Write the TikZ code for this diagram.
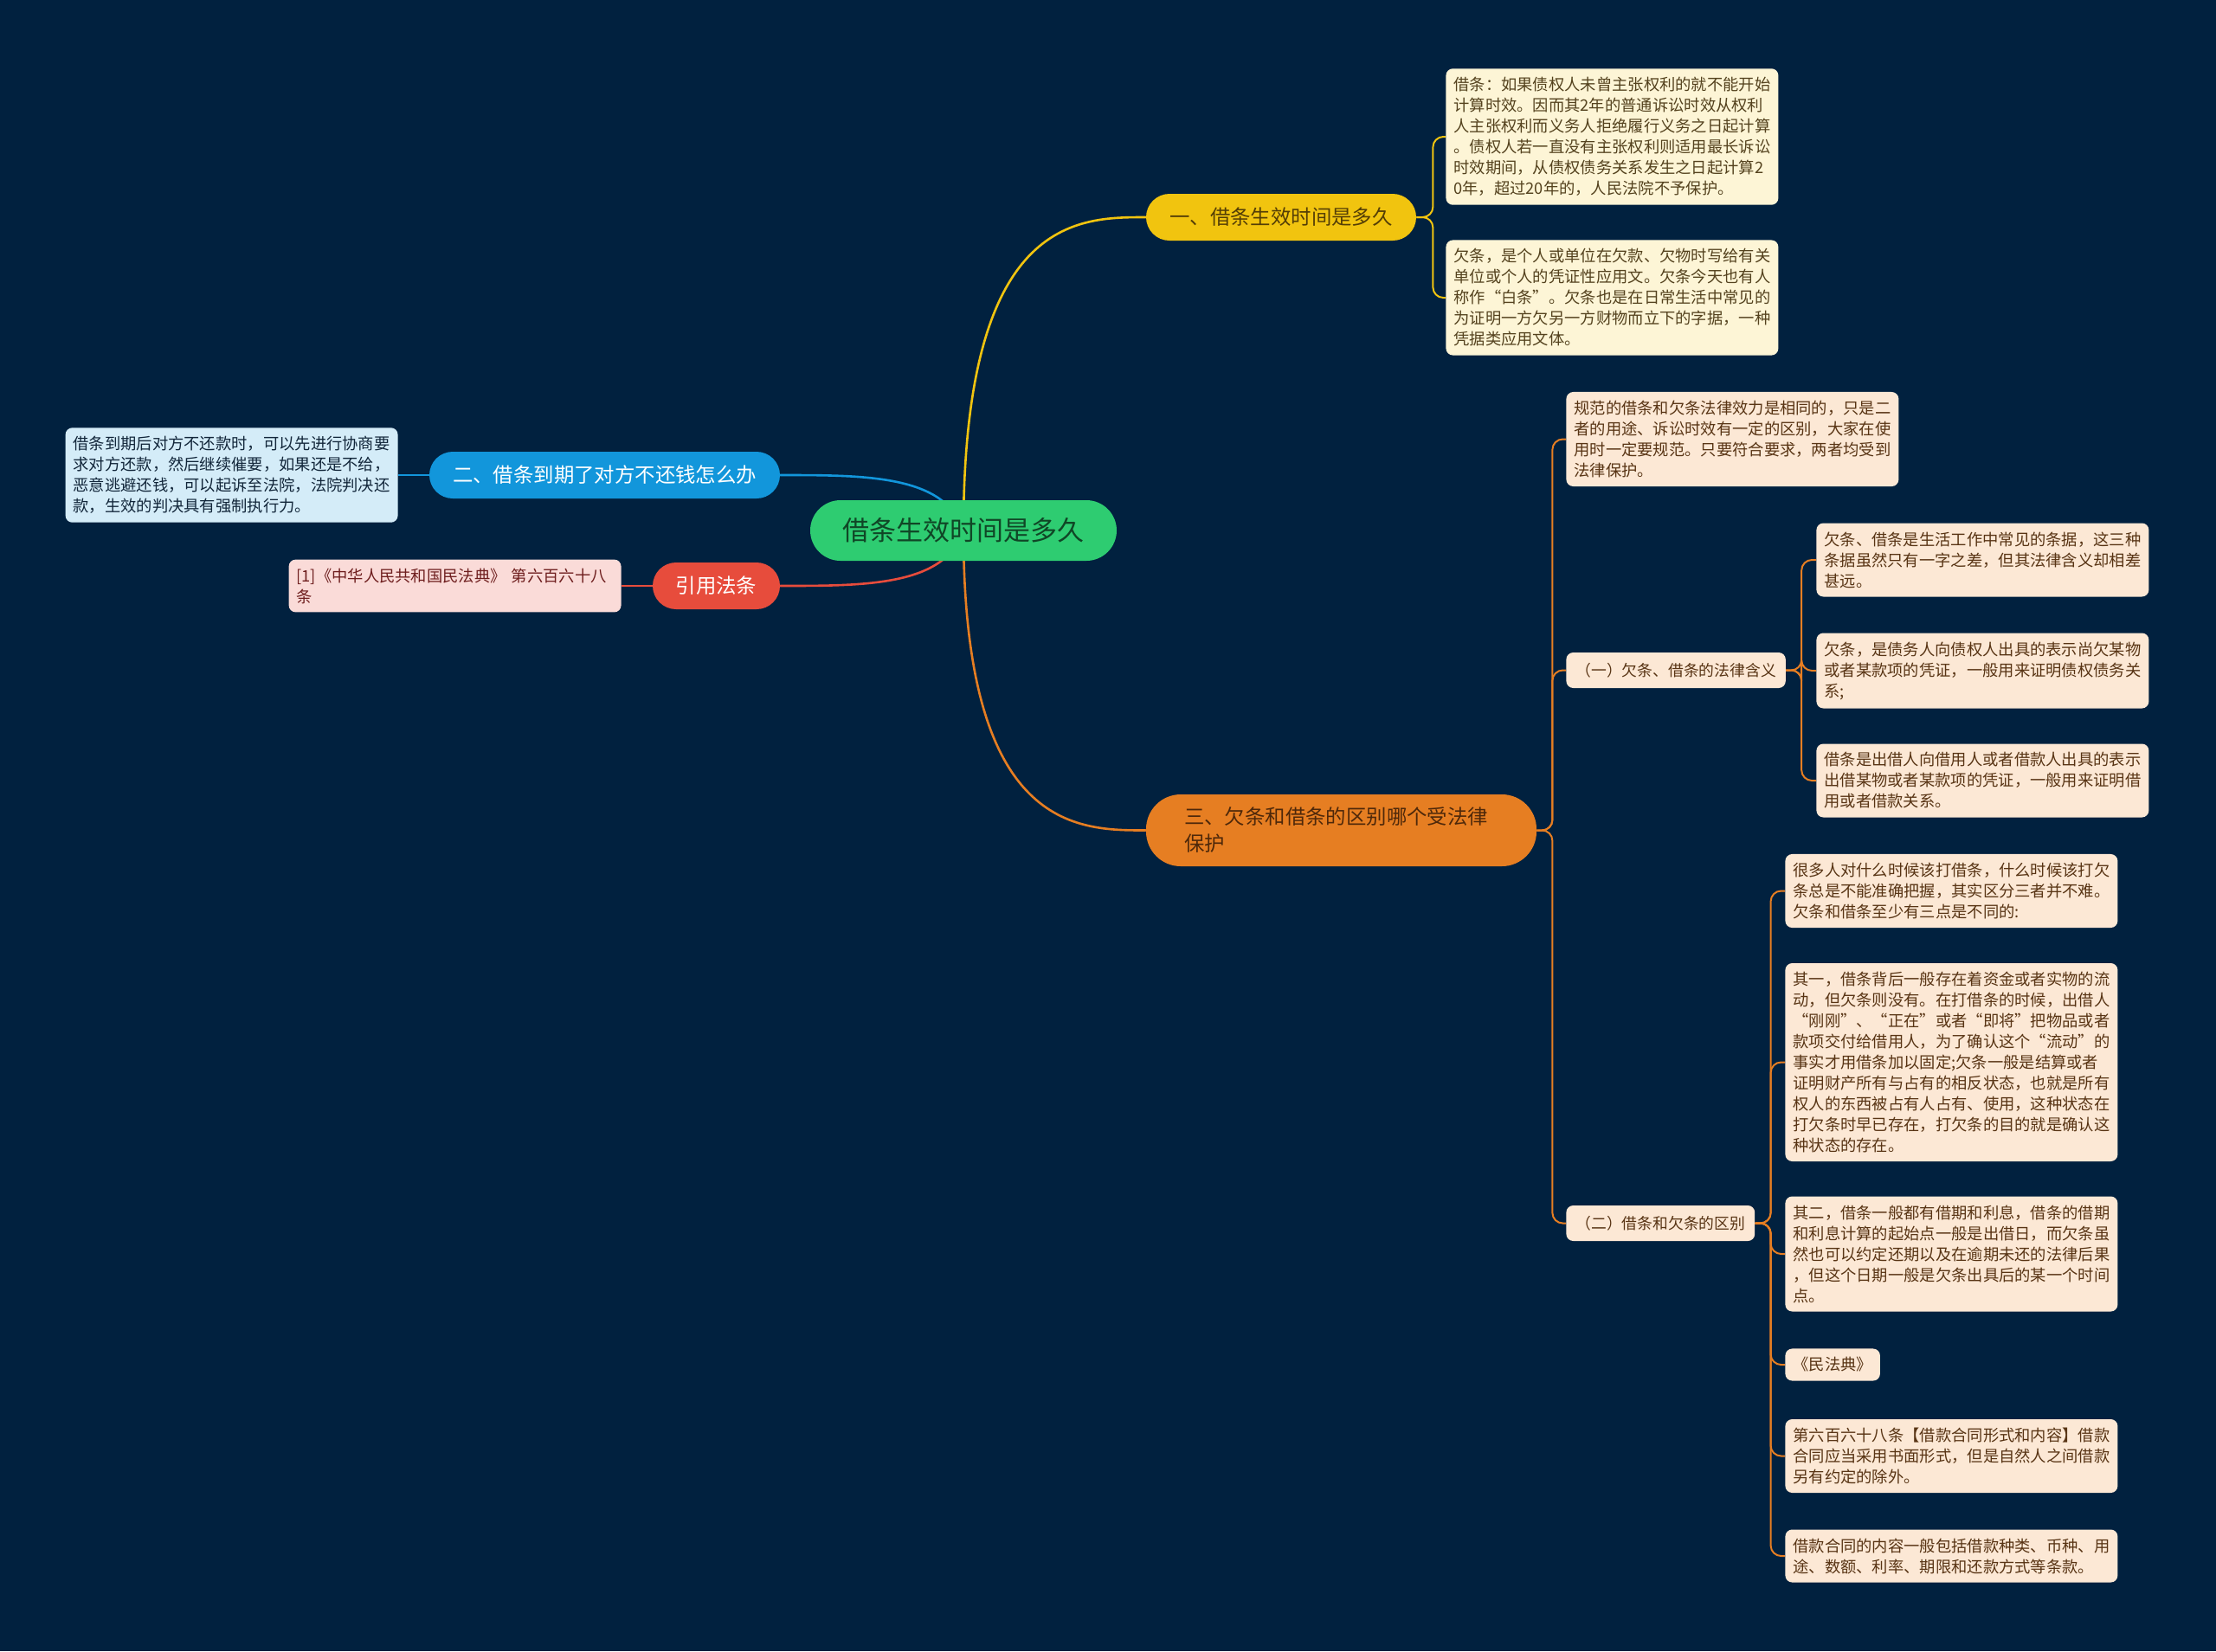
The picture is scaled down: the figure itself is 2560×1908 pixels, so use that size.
\documentclass[tikz,border=0pt]{standalone}
\usepackage{fontspec}
\setmainfont{Noto Sans CJK SC}
\usetikzlibrary{calc,backgrounds}

\definecolor{navybg}{RGB}{1,33,63}
\definecolor{rootgreen}{RGB}{46,204,113}
\definecolor{roottext}{RGB}{16,70,38}
\definecolor{ylw}{RGB}{241,196,15}
\definecolor{ylwtext}{RGB}{84,62,6}
\definecolor{ylwleaf}{RGB}{253,245,214}
\definecolor{ylwleaftext}{RGB}{84,66,30}
\definecolor{blu}{RGB}{18,150,219}
\definecolor{bluleaf}{RGB}{212,236,248}
\definecolor{bluleaftext}{RGB}{18,38,58}
\definecolor{rd}{RGB}{231,76,60}
\definecolor{rdleaf}{RGB}{250,219,216}
\definecolor{rdleaftext}{RGB}{110,30,30}
\definecolor{orng}{RGB}{230,126,34}
\definecolor{orngtext}{RGB}{78,40,10}
\definecolor{orngleaf}{RGB}{252,232,213}
\definecolor{orngleaftext}{RGB}{88,52,20}

\tikzset{
    leaf/.style    = {rectangle, rounded corners=4pt, inner xsep=4.5pt, inner ysep=5pt, align=left,
                      font=\fontsize{9.15}{12}\selectfont},
    note/.style    = {leaf, text width=183pt},
    ylwnote/.style = {note, fill=ylwleaf, text=ylwleaftext},
    bluenote/.style= {note, fill=bluleaf, text=bluleaftext},
    rednote/.style = {note, fill=rdleaf, text=rdleaftext},
    orgnote/.style = {note, fill=orngleaf, text=orngleaftext},
    limb/.style    = {line width=1.3pt, line cap=round},
    twig/.style    = {line width=1pt, rounded corners=6pt}
}

\begin{document}
\begin{tikzpicture}[
        x=0.5pt, y=-0.5pt,
        rootbox/.style={rectangle, rounded corners=17.5pt, fill=rootgreen, text=roottext,
                        minimum width=177pt, minimum height=35pt, font=\fontsize{15.5}{18}\selectfont},
        branch/.style={rectangle, rounded corners=13.5pt, minimum height=27pt, inner xsep=0pt,
                       font=\fontsize{11.7}{14}\selectfont},
        subhead/.style={rectangle, rounded corners=4pt, minimum height=20.5pt, inner xsep=5.5pt,
                        fill=orngleaf, text=orngleaftext, font=\fontsize{8.9}{11}\selectfont}
    ]

    % --- Canvas ---
    \begin{scope}[on background layer]
        \fill[navybg] (0,0) rectangle (2560,1908);
    \end{scope}
    \useasboundingbox (0,0) rectangle (2560,1908);

    % --- Root and main branches ---
    \node[rootbox] (root) at (1113,613) {借条生效时间是多久};
    \node[branch, fill=ylw, text=ylwtext, minimum width=156pt] (b1) at (1480,251) {一、借条生效时间是多久};
    \node[branch, fill=blu, text=white, minimum width=202.5pt] (b2) at (698.5,549) {二、借条到期了对方不还钱怎么办};
    \node[branch, fill=rd, text=white, minimum width=73.5pt] (b3) at (827.5,677) {引用法条};
    \node[branch, fill=orng, text=orngtext, rounded corners=20pt, minimum height=41.5pt, inner xsep=22pt,
          text width=181.5pt, align=left, font=\fontsize{11.7}{15.5}\selectfont] (b4) at (1549.5,959.5)
          {三、欠条和借条的区别哪个受法律\\保护};

    % --- Branch one leaves ---
    \node[ylwnote, anchor=west] (l1a) at (1670,158) {借条：如果债权人未曾主张权利的就不能开始\\计算时效。因而其2年的普通诉讼时效从权利\\人主张权利而义务人拒绝履行义务之日起计算\\。债权人若一直没有主张权利则适用最长诉讼\\时效期间，从债权债务关系发生之日起计算2\\0年，超过20年的，人民法院不予保护。};
    \node[ylwnote, anchor=west] (l1b) at (1670,344) {欠条，是个人或单位在欠款、欠物时写给有关\\单位或个人的凭证性应用文。欠条今天也有人\\称作“白条”。欠条也是在日常生活中常见的\\为证明一方欠另一方财物而立下的字据，一种\\凭据类应用文体。};

    % --- Branch two and three leaves ---
    \node[bluenote, anchor=east] (l2a) at (460,549) {借条到期后对方不还款时，可以先进行协商要\\求对方还款，然后继续催要，如果还是不给，\\恶意逃避还钱，可以起诉至法院，法院判决还\\款，生效的判决具有强制执行力。};
    \node[rednote, anchor=east] (l3a) at (718,677) {[1]《中华人民共和国民法典》 第六百六十八\\条};

    % --- Branch four ---
    \node[orgnote, anchor=west] (l4a) at (1809,507.5) {规范的借条和欠条法律效力是相同的，只是二\\者的用途、诉讼时效有一定的区别，大家在使\\用时一定要规范。只要符合要求，两者均受到\\法律保护。};
    \node[subhead, anchor=west] (s4b) at (1809,774.5) {（一）欠条、借条的法律含义};
    \node[subhead, anchor=west] (s4c) at (1809,1413.5) {（二）借条和欠条的区别};

    \node[orgnote, anchor=west] (l4b1) at (2098,647) {欠条、借条是生活工作中常见的条据，这三种\\条据虽然只有一字之差，但其法律含义却相差\\甚远。};
    \node[orgnote, anchor=west] (l4b2) at (2098,775) {欠条，是债务人向债权人出具的表示尚欠某物\\或者某款项的凭证，一般用来证明债权债务关\\系;};
    \node[orgnote, anchor=west] (l4b3) at (2098,902) {借条是出借人向借用人或者借款人出具的表示\\出借某物或者某款项的凭证，一般用来证明借\\用或者借款关系。};

    \node[orgnote, anchor=west] (l4c1) at (2062,1029.5) {很多人对什么时候该打借条，什么时候该打欠\\条总是不能准确把握，其实区分三者并不难。\\欠条和借条至少有三点是不同的:};
    \node[orgnote, anchor=west] (l4c2) at (2062,1227.5) {其一，借条背后一般存在着资金或者实物的流\\动，但欠条则没有。在打借条的时候，出借人\\“刚刚”、“正在”或者“即将”把物品或者\\款项交付给借用人，为了确认这个“流动”的\\事实才用借条加以固定;欠条一般是结算或者\\证明财产所有与占有的相反状态，也就是所有\\权人的东西被占有人占有、使用，这种状态在\\打欠条时早已存在，打欠条的目的就是确认这\\种状态的存在。};
    \node[orgnote, anchor=west] (l4c3) at (2062,1449) {其二，借条一般都有借期和利息，借条的借期\\和利息计算的起始点一般是出借日，而欠条虽\\然也可以约定还期以及在逾期未还的法律后果\\，但这个日期一般是欠条出具后的某一个时间\\点。};
    \node[leaf, fill=orngleaf, text=orngleaftext, anchor=west] (l4c4) at (2062,1577) {《民法典》};
    \node[orgnote, anchor=west] (l4c5) at (2062,1682.5) {第六百六十八条【借款合同形式和内容】借款\\合同应当采用书面形式，但是自然人之间借款\\另有约定的除外。};
    \node[orgnote, anchor=west] (l4c6) at (2062,1798) {借款合同的内容一般包括借款种类、币种、用\\途、数额、利率、期限和还款方式等条款。};

    % --- Connections ---
    \begin{scope}[on background layer]
        \draw[limb, ylw] (root.center) .. controls (root.center |- b1.west) and ([xshift=-40pt]b1.west) .. (b1.west);
        \draw[limb, orng] (root.center) .. controls (root.center |- b4.west) and ([xshift=-40pt]b4.west) .. (b4.west);
        \draw[limb, blu] (root.center) .. controls ([xshift=95pt]b2.east) and ([xshift=50pt]b2.east) .. (b2.east);
        \draw[limb, rd] (root.center) .. controls ([xshift=95pt]b3.east) and ([xshift=50pt]b3.east) .. (b3.east);

        \draw[twig, blu] (b2.west) -- (l2a.east);
        \draw[twig, rd] (b3.west) -- (l3a.east);

        \foreach \n in {l1a,l1b}
            \draw[twig, ylw] (b1.east) -- ++(9.5pt,0) |- (\n.west);
        \foreach \n in {l4a,s4b,s4c}
            \draw[twig, orng] (b4.east) -- ++(9pt,0) |- (\n.west);
        \foreach \n in {l4b1,l4b2,l4b3}
            \draw[twig, orng] (s4b.east) -- ++(9pt,0) |- (\n.west);
        \foreach \n in {l4c1,l4c2,l4c3,l4c4,l4c5,l4c6}
            \draw[twig, orng] (s4c.east) -- ++(9pt,0) |- (\n.west);
    \end{scope}
\end{tikzpicture}
\end{document}
